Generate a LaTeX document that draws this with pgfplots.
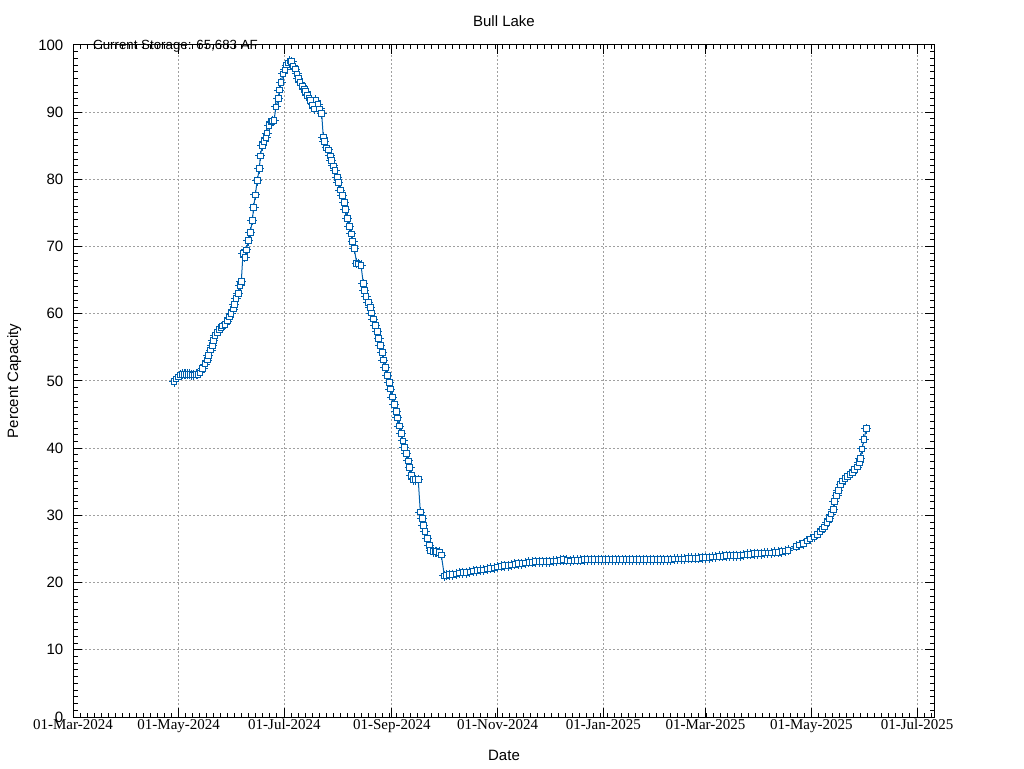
\documentclass[border=0pt]{standalone}
\usepackage{fontspec}
\setmainfont{Liberation Sans}
\newfontfamily\seriffont{Liberation Serif}
\usepackage{pgfplots}
\usepackage{pgfplotstable}
\pgfplotsset{compat=1.18}
\definecolor{gblue}{RGB}{0,96,173}
\definecolor{ggray}{RGB}{160,160,160}
\pgfplotstableread{
d v
58.3 49.9
59.4 50.3
60.8 50.6
62.0 50.9
63.0 51.0
64.1 51.0
65.2 51.0
66.3 51.0
67.5 51.0
68.6 50.9
69.8 50.9
71.0 51.0
72.1 51.0
73.3 51.2
74.8 51.9
76.2 52.5
77.5 53.1
78.1 53.8
79.5 54.6
80.4 55.3
81.0 56.0
81.9 56.8
83.3 57.2
84.4 57.7
85.4 58.0
86.4 58.2
87.7 58.4
89.0 58.9
90.2 59.5
91.2 60.0
92.5 60.7
93.1 61.4
94.1 62.3
95.4 63.0
96.4 64.2
97.1 64.8
98.1 69.0
99.2 68.4
100.0 69.5
101.2 70.9
102.3 72.1
103.5 73.9
104.2 75.8
105.2 77.7
106.3 79.8
107.5 81.6
108.1 83.5
109.2 85.0
110.2 85.6
111.4 86.2
111.9 86.9
113.1 88.0
114.4 88.6
115.2 88.7
116.0 88.8
117.1 90.8
118.5 92.0
119.1 93.3
120.0 94.4
121.2 95.7
122.4 96.3
123.2 97.0
124.2 97.3
125.2 97.6
126.2 97.5
127.0 96.9
128.3 96.4
129.2 95.7
130.0 95.0
131.0 94.4
132.3 93.9
133.5 93.4
134.3 93.1
135.2 92.5
136.2 92.1
137.2 91.7
138.3 91.1
139.2 90.5
140.2 91.8
141.4 91.2
142.3 90.5
143.5 89.8
144.4 86.3
145.0 85.6
146.4 84.7
147.3 84.4
148.5 83.5
149.0 82.8
150.2 82.0
151.2 81.3
152.5 80.3
153.1 79.5
154.2 78.4
155.4 77.6
156.5 76.6
157.1 75.5
158.3 74.2
159.4 73.0
160.6 71.9
161.4 70.8
162.3 69.7
163.7 67.5
164.9 67.4
166.2 67.2
167.5 64.5
168.1 63.5
169.1 62.6
170.4 61.7
171.6 60.9
172.1 60.1
173.3 59.2
174.4 58.3
175.6 57.4
176.4 56.3
177.3 55.3
178.5 54.2
179.0 53.1
180.2 52.0
181.4 50.8
182.5 49.8
183.1 48.8
184.2 47.6
185.4 46.5
186.5 45.5
187.1 44.5
188.3 43.3
189.4 42.2
190.4 41.1
191.2 40.1
192.3 39.2
193.5 38.1
194.3 37.1
195.2 35.9
196.4 35.3
197.7 35.3
199.2 35.3
200.4 30.5
201.5 29.5
202.1 28.5
203.1 27.6
204.4 26.6
205.6 25.5
206.4 24.8
207.9 24.6
208.9 24.6
209.9 24.6
211.4 24.5
212.5 24.1
214.3 21.0
215.6 21.1
217 21.2
219 21.2
221 21.3
223 21.4
225 21.5
227 21.5
229 21.6
231 21.7
233 21.8
235 21.9
237 21.9
239 22.0
241 22.1
243 22.2
245 22.3
247 22.4
249 22.5
251 22.5
253 22.6
255 22.7
257 22.8
259 22.8
261 22.9
263 23.0
265 23.0
267 23.1
269 23.1
271 23.1
273 23.1
275 23.1
277 23.2
279 23.2
281 23.3
283 23.4
285 23.3
287 23.2
289 23.3
291 23.3
293 23.3
295 23.4
297 23.4
299 23.4
301 23.4
303 23.4
305 23.4
307 23.4
309 23.4
311 23.4
313 23.4
315 23.4
317 23.4
319 23.4
321 23.4
323 23.4
325 23.4
327 23.4
329 23.4
331 23.4
333 23.4
335 23.4
337 23.4
339 23.4
341 23.4
343 23.4
345 23.4
347 23.5
349 23.5
351 23.5
353 23.5
355 23.6
357 23.6
359 23.6
361 23.6
363 23.7
365 23.7
367 23.7
369 23.8
371 23.8
373 23.9
375 23.9
377 24.0
379 24.0
381 24.0
383 24.0
385 24.0
387 24.1
389 24.2
391 24.2
393 24.3
395 24.3
397 24.3
399 24.4
401 24.4
403 24.4
405 24.5
407 24.5
409 24.6
411 24.7
412.6 24.8
417.2 25.4
419.1 25.6
421.4 25.8
423.4 26.2
425.3 26.5
427.6 26.8
429.5 27.2
431.0 27.5
432.4 28.0
433.5 28.3
435.1 28.9
436.4 29.5
437.4 30.2
438.7 30.9
439.3 32.1
440.7 33.0
441.6 33.7
443.0 34.6
443.9 35.1
445.4 35.5
446.8 35.8
448.3 36.1
449.7 36.3
451.0 36.8
452.5 37.2
453.7 37.9
454.3 38.5
455.3 39.9
456.4 41.3
457.7 42.9
}\storage

\begin{document}
\begin{tikzpicture}[x=1pt,y=1pt]
\path[use as bounding box] (0,0) rectangle (1024,768);
\begin{axis}[
  at={(73pt,51pt)}, anchor=south west,
  scale only axis, width=861pt, height=672pt,
  xmin=0, xmax=496.8, ymin=0, ymax=100,
  axis line style={black, line width=1pt},
  xtick={0,61,122,184,245,306,365,426,487},
  xticklabels={01-Mar-2024,01-May-2024,01-Jul-2024,01-Sep-2024,01-Nov-2024,01-Jan-2025,01-Mar-2025,01-May-2025,01-Jul-2025},
  minor xtick={0,4.05833,...,497},
  ytick={0,10,...,100},
  minor y tick num=9,
  tick align=inside,
  tick pos=both,
  major tick length=9pt,
  minor tick length=4.5pt,
  every tick/.style={black, line width=1pt},
  grid=major,
  major grid style={ggray, line width=1pt, dash pattern=on 2pt off 2pt},
  /pgf/number format/assume math mode=true,
  yticklabel style={font=\fontsize{15}{18}\selectfont, anchor=east, inner sep=0pt, xshift=-9.5pt},
  xticklabel style={font=\seriffont\fontsize{15}{18}\selectfont, anchor=base, inner sep=0pt, yshift=-12.3pt},
  clip=false,
]
\addplot[gblue, line width=1pt, mark=+, mark size=5pt, mark options={line width=1pt, solid}] table[x=d,y=v]{\storage};
\addplot[only marks, mark=square*, mark size=2.8pt, mark options={draw=gblue, fill=white, line width=1pt}] table[x=d,y=v]{\storage};
\end{axis}
\node[anchor=base, inner sep=0pt, font=\fontsize{15}{18}\selectfont] at (504,741.5) {Bull Lake};
\node[anchor=base, inner sep=0pt, font=\fontsize{15}{18}\selectfont] at (504,8) {Date};
\node[anchor=base, rotate=90, inner sep=0pt, font=\fontsize{15}{18}\selectfont] at (18,387) {Percent Capacity};
\node[anchor=base west, inner sep=0pt, font=\fontsize{13.3}{16}\selectfont] at (93,718.5) {Current Storage: 65,683 AF};
\end{tikzpicture}
\end{document}
